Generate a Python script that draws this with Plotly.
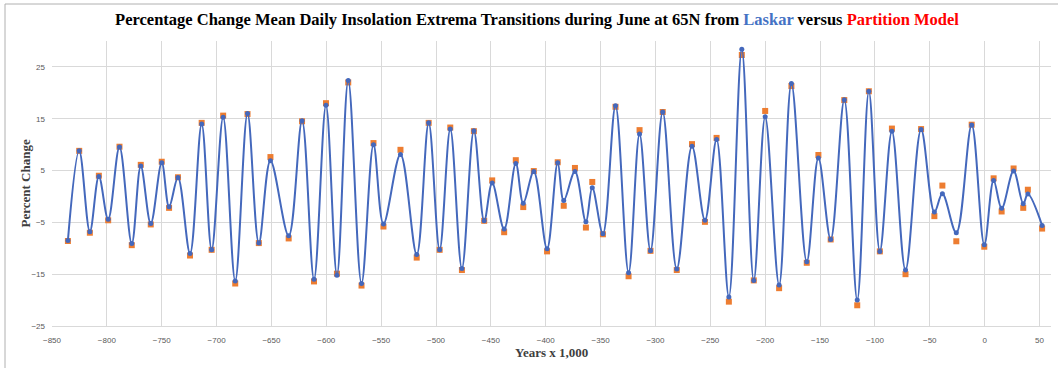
import plotly.graph_objects as go

years = [-835.5, -825.2, -815.5, -807.3, -798.8, -788.5, -777.3, -769.1, -760.0, -750.0,
         -743.3, -735.2, -724.2, -713.6, -704.5, -694.0, -683.0, -671.8, -661.5, -650.9,
         -634.3, -622.1, -611.2, -600.3, -590.3, -580.0, -567.9, -557.0, -547.9, -532.4,
         -517.6, -506.7, -496.7, -487.0, -476.4, -465.5, -456.1, -448.8, -437.9, -427.3,
         -420.5, -410.9, -398.8, -389.1, -383.6, -373.4, -363.4, -357.6, -347.9, -336.4,
         -324.5, -314.5, -304.5, -293.4, -280.6, -266.7, -254.9, -244.3, -233.1, -221.3,
         -210.4, -200.0, -187.3, -176.1, -162.1, -151.5, -140.3, -127.9, -116.1, -105.5,
         -95.5, -84.5, -72.1, -57.9, -45.8, -38.5, -25.8, -11.8, -0.3, 8.2,
         15.5, 26.4, 35.2, 39.4, 52.4]

laskar = [-8.5, 8.8, -6.8, 3.85, -4.4, 9.55, -9.1, 5.9, -5.2, 6.5,
          -2.0, 3.65, -11.0, 14.0, -10.3, 15.3, -16.3, 16.0, -9.0, 6.9,
          -7.6, 14.6, -16.0, 17.6, -15.2, 22.4, -16.8, 10.0, -5.3, 8.1,
          -11.2, 14.2, -10.3, 13.0, -13.9, 12.7, -4.7, 2.6, -6.3, 6.35,
          -1.3, 4.8, -10.1, 6.5, -0.8, 4.8, -4.9, 1.7, -7.2, 17.5,
          -14.7, 12.05, -10.5, 16.3, -14.0, 9.7, -4.6, 11.0, -19.4, 28.4,
          -16.2, 15.4, -17.1, 21.8, -12.6, 7.4, -8.3, 18.65, -20.0, 20.3,
          -10.6, 12.6, -14.2, 12.9, -3.0, 0.5, -7.0, 13.8, -9.3, 3.1,
          -2.3, 4.9, -1.4, 0.45, -5.6]

partition = [-8.6, 8.8, -7.0, 4.0, -4.6, 9.6, -9.4, 6.1, -5.4, 6.7,
             -2.2, 3.7, -11.4, 14.2, -10.3, 15.6, -16.8, 15.9, -9.0, 7.6,
             -8.1, 14.5, -16.4, 18.0, -14.9, 22.0, -17.2, 10.3, -5.8, 9.0,
             -11.8, 14.2, -10.3, 13.3, -14.2, 12.6, -4.7, 3.1, -6.9, 7.0,
             -2.05, 4.9, -10.6, 6.6, -1.8, 5.5, -6.0, 2.8, -7.3, 17.3,
             -15.4, 12.8, -10.5, 16.3, -14.2, 10.1, -4.9, 11.3, -20.3, 27.3,
             -16.2, 16.5, -17.7, 21.3, -12.8, 8.0, -8.3, 18.6, -21.0, 20.3,
             -10.6, 13.1, -15.0, 13.0, -3.8, 2.1, -8.65, 13.85, -9.7, 3.5,
             -2.9, 5.4, -2.2, 1.3, -6.2]

BLUE = "#4468BC"
ORANGE = "#ED7D31"
SERIF = "Liberation Serif, Times New Roman, serif"
TICKFONT = dict(family="Liberation Sans Narrow, Liberation Sans, Arial", size=8, color="#595959")

fig = go.Figure()
fig.add_trace(go.Scatter(
    x=years, y=partition, mode="markers", name="Partition Model",
    marker=dict(symbol="square", size=6, color=ORANGE, line=dict(width=0)),
))
fig.add_trace(go.Scatter(
    x=years, y=laskar, mode="lines+markers", name="Laskar",
    line=dict(color=BLUE, width=2, shape="spline", smoothing=1),
    marker=dict(symbol="circle", size=5, color=BLUE),
))

title_text = ("<b>Percentage Change Mean Daily Insolation Extrema Transitions during June at 65N from "
              "<span style='color:#4472C4'>Laskar</span> versus "
              "<span style='color:#FF0000'>Partition Model</span></b>")

fig.update_layout(
    width=1058, height=368,
    margin=dict(l=52, r=7, t=41, b=42),
    paper_bgcolor="white", plot_bgcolor="white",
    showlegend=False,
    title=dict(text=title_text, x=(537 - 52) / 999, xanchor="center", xref="paper",
               y=1 - 19 / 368, yref="container", yanchor="middle",
               font=dict(family=SERIF, size=16.5, color="black")),
    xaxis=dict(range=[-850, 60.5], tick0=-850, dtick=50, showgrid=True,
               gridcolor="#D9D9D9", gridwidth=1, zeroline=False,
               showline=True, linecolor="#D9D9D9", linewidth=1,
               ticks="", tickfont=TICKFONT, ticklabelstandoff=6),
    yaxis=dict(range=[-25, 30], tick0=-25, dtick=10, showgrid=True,
               gridcolor="#D9D9D9", gridwidth=1, zeroline=False,
               showline=False, ticks="", tickfont=TICKFONT, ticklabelstandoff=6),
    annotations=[
        dict(text="<b>Years x 1,000</b>", x=0.5, y=0, xref="paper", yref="paper",
             xanchor="center", yanchor="middle", yshift=-26, showarrow=False,
             font=dict(family=SERIF, size=13, color="#404040")),
        dict(text="<b>Percent Change</b>", x=0, y=0.5, xref="paper", yref="paper",
             xanchor="center", yanchor="middle", xshift=-27, textangle=-90, showarrow=False,
             font=dict(family=SERIF, size=13, color="#404040")),
    ],
    shapes=[
        dict(type="line", xref="paper", yref="paper", x0=-47 / 999, x1=1.2,
             y0=(326 - 4) / 285, y1=(326 - 4) / 285, line=dict(color="#B0B0B0", width=1)),
        dict(type="line", xref="paper", yref="paper", x0=-47 / 999, x1=-47 / 999,
             y0=(326 - 4) / 285, y1=-0.3, line=dict(color="#B0B0B0", width=1)),
    ],
)

fig.write_html("out.html")
